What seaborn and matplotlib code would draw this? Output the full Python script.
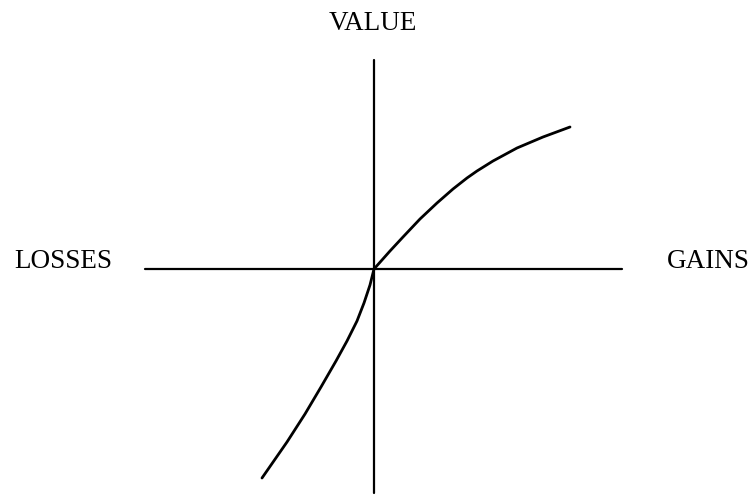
import pandas as pd
import matplotlib.pyplot as plt
import seaborn as sns

# value function (origin at the crossing of the axes)
gain_x = [0, 16, 29, 46, 63, 79, 93, 103, 119, 143, 169, 196]
gain_y = [0, 18, 32, 50, 66, 80, 91, 98, 108, 121, 132, 142]
loss_x = [0, -4, -10, -17, -27, -38, -53, -69, -87, -112]
loss_y = [0, -16, -34, -52, -72, -92, -118, -145, -173, -209]

axis_labels = ["LOSSES", "GAINS", "VALUE"]

df = pd.DataFrame({
    "x": loss_x[::-1] + gain_x[1:],
    "y": loss_y[::-1] + gain_y[1:],
})

sns.set_style("white")
plt.rcParams["font.family"] = ["Liberation Serif", "DejaVu Serif"]

fig = plt.figure(figsize=(7.54, 4.97), dpi=100)
ax = fig.add_axes([0, 0, 1, 1])
ax.set_xlim(-374, 380)
ax.set_ylim(-228, 269)
ax.axis("off")

# the two axes of the sketch
ax.plot([-229, 248], [0, 0], color="black", lw=1.6)
ax.plot([0, 0], [-224, 209], color="black", lw=1.6)

sns.lineplot(data=df, x="x", y="y", sort=False, color="black", lw=2, ax=ax)

ax.text(-311, 7, axis_labels[0], fontsize=19.5, color="black", ha="center", va="center")
ax.text(334, 7, axis_labels[1], fontsize=19.5, color="black", ha="center", va="center")
ax.text(-1, 246, axis_labels[2], fontsize=19.5, color="black", ha="center", va="center")

plt.savefig("out.png", dpi=100)
